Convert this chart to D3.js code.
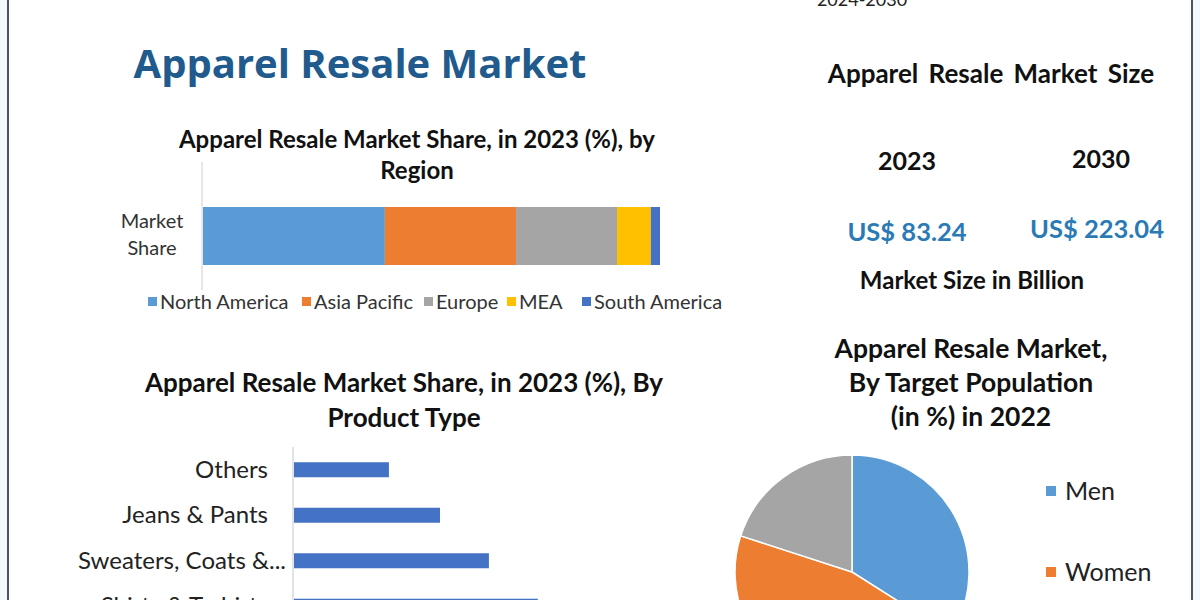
<!DOCTYPE html>
<html><head><meta charset="utf-8">
<script src="https://cdn.jsdelivr.net/npm/d3@7"></script>
<style>html,body{margin:0;padding:0;background:#fff;}svg{display:block;}</style>
</head><body>
<svg id="c" width="1200" height="600"></svg>
<script>
// ---- data ----
const regions = ["North America","Asia Pacific","Europe","MEA","South America"];
const regionShare = [39.8, 28.7, 22.1, 7.4, 2.0];
const regionColors = ["#5B9BD5","#ED7D31","#A5A5A5","#FFC000","#4472C4"];
const productTypes = ["Others","Jeans & Pants","Sweaters, Coats &...","Shirts & T-shirts"];
const productShare = [13.0, 20.0, 26.7, 33.4];
const sizeYears = ["2023","2030"];
const sizeValues = ["US$ 83.24","US$ 223.04"];
const population = ["Men","Women","Kids"];
const populationShare = [34, 46, 20];
const populationColors = ["#5B9BD5","#ED7D31","#A5A5A5"];

const svg = d3.select("#c");
const F = "Lato, 'Open Sans', sans-serif";

// frame
svg.append("rect").attr("x",0).attr("y",0).attr("width",8).attr("height",600).attr("fill","#f3f9fc");
svg.append("rect").attr("x",1193).attr("y",0).attr("width",7).attr("height",600).attr("fill","#f3f9fc");
svg.append("line").attr("x1",8).attr("x2",8).attr("y1",0).attr("y2",600).attr("stroke","#4a5560").attr("stroke-width",2);
svg.append("line").attr("x1",1192).attr("x2",1192).attr("y1",0).attr("y2",600).attr("stroke","#4a5560").attr("stroke-width",2);

// top cut text
svg.append("text").attr("x",862).attr("y",6).attr("text-anchor","middle").attr("font-family",F)
  .attr("font-size",18).attr("fill","#222").text("2024-2030");

// main title
svg.append("text").attr("x",360).attr("y",78).attr("text-anchor","middle")
  .attr("font-family","'Open Sans', sans-serif").attr("font-weight",700).attr("font-size",40)
  .attr("fill","#215A8C").text("Apparel Resale Market");

// ---- region stacked bar ----
const g1 = svg.append("g");
g1.append("text").attr("x",417).attr("y",148).attr("text-anchor","middle").attr("font-family",F)
  .attr("font-weight",700).attr("font-size",24).attr("fill","#111").text("Apparel Resale Market Share, in 2023 (%), by");
g1.append("text").attr("x",417).attr("y",179).attr("text-anchor","middle").attr("font-family",F)
  .attr("font-weight",700).attr("font-size",24).attr("fill","#111").text("Region");

const xR = d3.scaleLinear().domain([0,100]).range([203,660]);
const yR = d3.scaleBand().domain(["Market Share"]).range([207,265]).padding(0);
let cum = 0;
const segs = regionShare.map((v,i)=>{const s={name:regions[i],x0:cum,x1:cum+v,c:regionColors[i]};cum+=v;return s;});
g1.selectAll("rect.seg").data(segs).join("rect").attr("class","seg")
  .attr("x",d=>xR(d.x0)).attr("width",d=>xR(d.x1)-xR(d.x0))
  .attr("y",yR("Market Share")).attr("height",yR.bandwidth()).attr("fill",d=>d.c);
g1.append("line").attr("x1",202).attr("x2",202).attr("y1",162).attr("y2",290).attr("stroke","#d0d0d0").attr("stroke-width",1);
const cy = yR("Market Share")+yR.bandwidth()/2;
["Market","Share"].forEach((t,i)=>{
  g1.append("text").attr("x",152).attr("y",cy-8+i*27).attr("text-anchor","middle").attr("font-family",F)
    .attr("font-size",20).attr("fill","#333").text(t);
});
// legend
const legX = [148,302,424,507,582];
regions.forEach((r,i)=>{
  g1.append("rect").attr("x",legX[i]).attr("y",297).attr("width",9).attr("height",9).attr("fill",regionColors[i]);
  g1.append("text").attr("x",legX[i]+12).attr("y",309).attr("font-family",F).attr("font-size",20)
    .attr("fill","#333").text(r);
});

// ---- product type bars ----
const g2 = svg.append("g");
g2.append("text").attr("x",404).attr("y",392).attr("text-anchor","middle").attr("font-family",F)
  .attr("font-weight",700).attr("font-size",26).attr("fill","#111").text("Apparel Resale Market Share, in 2023 (%), By");
g2.append("text").attr("x",404).attr("y",427).attr("text-anchor","middle").attr("font-family",F)
  .attr("font-weight",700).attr("font-size",26).attr("fill","#111").text("Product Type");
const xP = d3.scaleLinear().domain([0,50]).range([293,658]);
const yP = d3.scalePoint().domain(productTypes).range([447,629]).padding(0.5);
g2.append("line").attr("x1",293).attr("x2",293).attr("y1",447).attr("y2",600).attr("stroke","#c8c8c8");
g2.selectAll("rect.pb").data(productTypes).join("rect").attr("class","pb")
  .attr("x",xP(0)+1).attr("y",d=>yP(d)-7.5).attr("height",15)
  .attr("width",(d,i)=>xP(productShare[i])-xP(0)).attr("fill","#4472C4");
g2.selectAll("text.pl").data(productTypes).join("text").attr("class","pl")
  .attr("x",d=>d.endsWith("...")?286:268).attr("y",d=>yP(d)+8).attr("text-anchor","end")
  .attr("font-family",F).attr("font-size",24).attr("fill","#222").text(d=>d);

// ---- market size ----
const g3 = svg.append("g");
g3.append("text").attr("x",991).attr("y",83).attr("text-anchor","middle").attr("font-family",F)
  .attr("font-weight",700).attr("font-size",26).attr("word-spacing",4).attr("fill","#111").text("Apparel Resale Market Size");
const xS = d3.scalePoint().domain(sizeYears).range([907,1101]);
sizeYears.forEach((y,i)=>{
  g3.append("text").attr("x",xS(y)).attr("y",i===0?170:168).attr("text-anchor","middle").attr("font-family",F)
    .attr("font-weight",700).attr("font-size",25).attr("fill","#111").text(y);
  g3.append("text").attr("x",xS(y)-(i===0?0:4)).attr("y",i===0?241:238).attr("text-anchor","middle").attr("font-family",F)
    .attr("font-weight",700).attr("font-size",25.5).attr("fill","#2A7AB5").text(sizeValues[i]);
});
g3.append("text").attr("x",972).attr("y",289).attr("text-anchor","middle").attr("font-family",F)
  .attr("font-weight",700).attr("font-size",24).attr("fill","#111").text("Market Size in Billion");

// ---- pie ----
const g4 = svg.append("g");
["Apparel Resale Market,","By Target Population","(in %) in 2022"].forEach((t,i)=>{
  g4.append("text").attr("x",971).attr("y",358+i*34).attr("text-anchor","middle").attr("font-family",F)
    .attr("font-weight",700).attr("font-size",26.5).attr("fill","#111").text(t);
});
const pie = d3.pie().sort(null).value(d=>d)(populationShare);
const arc = d3.arc().innerRadius(0).outerRadius(117);
g4.append("g").attr("transform","translate(852,572)").selectAll("path").data(pie).join("path")
  .attr("d",arc).attr("fill",(d,i)=>populationColors[i]).attr("stroke","#fff").attr("stroke-width",1.5);
const yL = d3.scaleLinear().domain([0,1]).range([491,572]);
population.forEach((p,i)=>{
  g4.append("rect").attr("x",1046).attr("y",yL(i)-5).attr("width",10).attr("height",10).attr("fill",populationColors[i]);
  g4.append("text").attr("x",1065).attr("y",yL(i)+9).attr("font-family",F).attr("font-size",25)
    .attr("fill","#222").text(p);
});
</script>
</body></html>
